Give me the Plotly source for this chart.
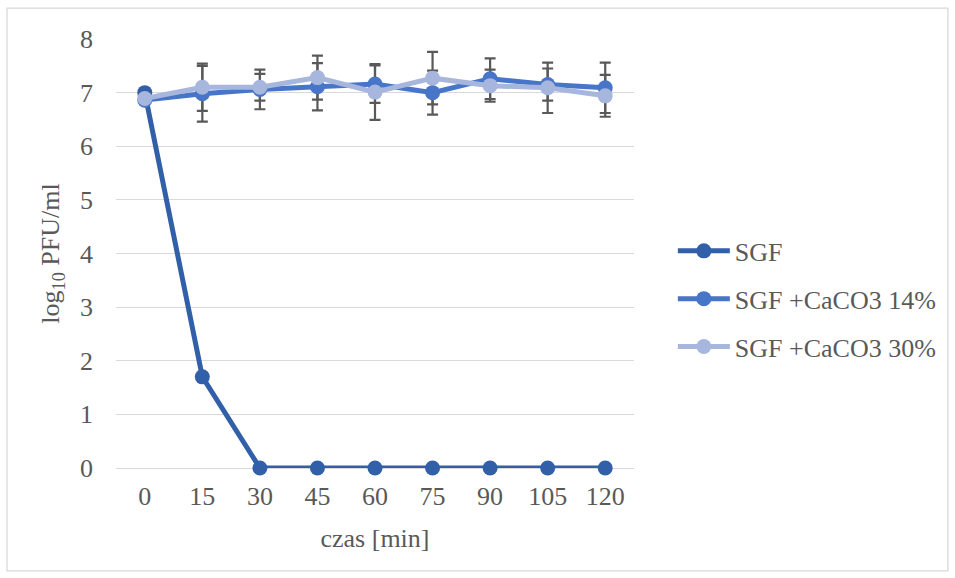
import plotly.graph_objects as go

categories = ["0", "15", "30", "45", "60", "75", "90", "105", "120"]
sgf = [7.0, 1.7, 0, 0, 0, 0, 0, 0, 0]
caco3_14 = [6.86, 6.98, 7.06, 7.11, 7.16, 7.0, 7.26, 7.15, 7.09]
caco3_14_err = [0, 0.52, 0.37, 0.44, 0.35, 0.41, 0.38, 0.30, 0.47]
caco3_30 = [6.89, 7.1, 7.1, 7.28, 7.01, 7.27, 7.13, 7.09, 6.94]
caco3_30_err = [0, 0.44, 0.25, 0.41, 0.52, 0.49, 0.30, 0.47, 0.39]

names = ["SGF", "SGF +CaCO3 14%", "SGF +CaCO3 30%"]
colors = ["#3260A8", "#4775C8", "#A7B6DD"]
err_color = "#595959"
text_color = "#595959"
font_family = "Liberation Serif, Times New Roman, serif"

fig = go.Figure()

# error bars drawn first (behind lines)
for vals, errs in [(caco3_14, caco3_14_err), (caco3_30, caco3_30_err)]:
    fig.add_trace(go.Scatter(
        x=categories, y=vals, mode="markers",
        marker=dict(size=1, opacity=0),
        error_y=dict(type="data", array=errs, visible=True,
                     color=err_color, thickness=2.2, width=5.5),
        showlegend=False, hoverinfo="skip", cliponaxis=False,
    ))

for i, vals in enumerate([sgf, caco3_14, caco3_30]):
    fig.add_trace(go.Scatter(
        x=categories, y=vals, mode="lines+markers", name=names[i],
        line=dict(color=colors[i], width=5),
        marker=dict(color=colors[i], size=15),
        cliponaxis=False, legendgroup=str(i),
    ))

fig.update_layout(
    width=955, height=578,
    margin=dict(l=116, r=321, t=39, b=110),
    paper_bgcolor="white", plot_bgcolor="white",
    font=dict(family=font_family, size=26, color=text_color),
    showlegend=True,
    legend=dict(x=1.075, xanchor="left", y=0.394, yanchor="middle",
                font=dict(size=26, color=text_color), tracegroupgap=11,
                itemwidth=52, bgcolor="rgba(0,0,0,0)"),
    xaxis=dict(type="category", categoryorder="array", categoryarray=categories,
               range=[-0.5, len(categories) - 0.5],
               showgrid=False, showline=False, zeroline=False, ticks="",
               automargin=False, ticklabelstandoff=10,
               title=dict(text="czas [min]", standoff=18,
                          font=dict(size=26, color=text_color))),
    yaxis=dict(range=[0, 8], dtick=1, showgrid=True, gridcolor="#D9D9D9",
               gridwidth=1.3, zeroline=True, zerolinecolor="#D9D9D9",
               zerolinewidth=1.3, showline=False, ticks="",
               automargin=False, ticklabelstandoff=22,
               title=dict(text="log<sub>10</sub> PFU/ml", standoff=12,
                          font=dict(size=26, color=text_color))),
)

fig.add_shape(type="rect", xref="paper", yref="paper",
              x0=-0.2104, x1=1.606, y0=-0.240, y1=1.072,
              line=dict(color="#D9D9D9", width=1.3), fillcolor="rgba(0,0,0,0)",
              layer="below")

fig.write_html("out.html")
